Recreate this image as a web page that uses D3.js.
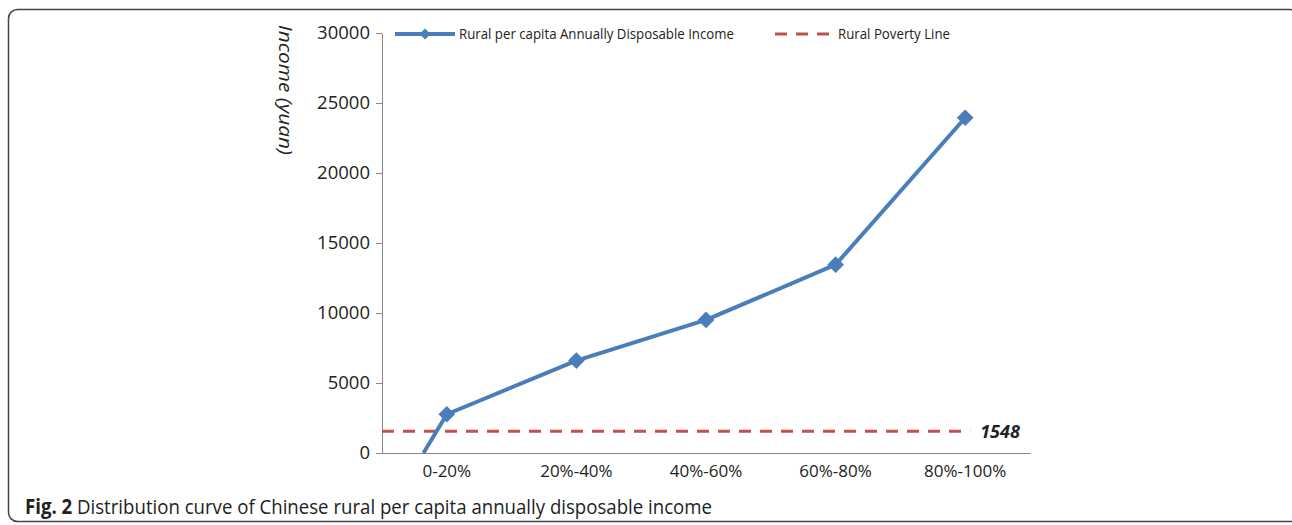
<!DOCTYPE html>
<html>
<head>
<meta charset="utf-8">
<script src="https://cdn.jsdelivr.net/npm/d3@7"></script>
<style>
  body { margin: 0; background: #fff; }
  text { font-family: "Open Sans", sans-serif; fill: #222; }
</style>
</head>
<body>
<svg id="chart" width="1292" height="525"></svg>
<script>
// data
var categories = ["0-20%", "20%-40%", "40%-60%", "60%-80%", "80%-100%"];
var income = [2768, 6604, 9504, 13449, 23947];
var curveStart = {pos: -0.18, value: 0};   // the line starts on the x axis, left of the first group
var povertyLine = 1548;
var yTicks = [0, 5000, 10000, 15000, 20000, 25000, 30000];

var margin = {top: 33, left: 382, right: 262, bottom: 72};
var width = 1292, height = 525;
var plotW = width - margin.left - margin.right;   // 648
var plotH = height - margin.top - margin.bottom;  // 420

var svg = d3.select("svg#chart");

// rounded frame round the figure
svg.append("rect")
  .attr("x", 8.5).attr("y", 9.5)
  .attr("width", 1290).attr("height", 512)
  .attr("rx", 9)
  .attr("fill", "none")
  .attr("stroke", "#444")
  .attr("stroke-width", 1.5);

var g = svg.append("g").attr("transform", "translate(" + margin.left + "," + margin.top + ")");

var x = d3.scaleBand().domain(categories).range([0, plotW]);
var y = d3.scaleLinear().domain([0, 30000]).range([plotH, 0]);

// position in category units -> pixels
var xPos = function (p) { return x.bandwidth() * (p + 0.5); };

// y axis
var yAxis = g.append("g")
  .call(d3.axisLeft(y).tickValues(yTicks).tickSize(6).tickSizeOuter(0).tickFormat(d3.format("d")));
yAxis.select(".domain").attr("stroke", "#888");
yAxis.selectAll(".tick line").attr("stroke", "#888");
yAxis.selectAll("text")
  .attr("x", -12)
  .style("font-size", "18.5px")
  .style("font-family", "Open Sans, sans-serif")
  .attr("fill", "#222");

// x axis
var xAxis = g.append("g")
  .attr("transform", "translate(0," + plotH + ")")
  .call(d3.axisBottom(x).tickSize(0).tickSizeOuter(0));
xAxis.select(".domain").attr("stroke", "#888");
xAxis.selectAll("text")
  .attr("y", 12)
  .style("font-size", "17px")
  .style("font-family", "Open Sans, sans-serif")
  .attr("fill", "#222");

// y axis title, rotated clockwise
svg.append("text")
  .attr("transform", "translate(279,90) rotate(90)")
  .attr("text-anchor", "middle")
  .attr("textLength", 130).attr("lengthAdjust", "spacingAndGlyphs")
  .style("font-size", "19px")
  .style("font-style", "italic")
  .text("Income (yuan)");

// poverty line
g.append("line")
  .attr("x1", 0)
  .attr("x2", xPos(4) + 5)
  .attr("y1", y(povertyLine))
  .attr("y2", y(povertyLine))
  .attr("stroke", "#c0504d")
  .attr("stroke-width", 3)
  .attr("stroke-dasharray", "12,9");

g.append("text")
  .attr("x", xPos(4) + 15)
  .attr("y", y(povertyLine))
  .attr("dy", "0.35em")
  .style("font-size", "18px")
  .style("font-weight", "bold")
  .style("font-style", "italic")
  .attr("fill", "#111")
  .text(povertyLine);

// income curve
var pts = [[curveStart.pos, curveStart.value]].concat(income.map(function (v, i) { return [i, v]; }));
var line = d3.line()
  .x(function (d) { return xPos(d[0]); })
  .y(function (d) { return y(d[1]); });

g.append("path")
  .datum(pts)
  .attr("d", line)
  .attr("fill", "none")
  .attr("stroke", "#4a7ebb")
  .attr("stroke-width", 4)
  .attr("stroke-linejoin", "round");

var diamond = d3.symbol().type(d3.symbolSquare).size(140);
g.selectAll(".marker")
  .data(income)
  .enter()
  .append("path")
  .attr("class", "marker")
  .attr("d", diamond)
  .attr("transform", function (d, i) { return "translate(" + xPos(i) + "," + y(d) + ") rotate(45)"; })
  .attr("fill", "#4a7ebb");

// legend
var leg = svg.append("g").attr("transform", "translate(0,34)");
leg.append("line")
  .attr("x1", 395).attr("x2", 455)
  .attr("stroke", "#4a7ebb").attr("stroke-width", 4);
leg.append("path")
  .attr("d", d3.symbol().type(d3.symbolSquare).size(60))
  .attr("transform", "translate(425,0) rotate(45)")
  .attr("fill", "#4a7ebb");
leg.append("text")
  .attr("x", 459).attr("dy", "0.35em")
  .attr("textLength", 275).attr("lengthAdjust", "spacingAndGlyphs")
  .style("font-size", "14px")
  .text("Rural per capita Annually Disposable Income");
leg.append("line")
  .attr("x1", 775).attr("x2", 832)
  .attr("stroke", "#c0504d").attr("stroke-width", 3)
  .attr("stroke-dasharray", "12,9");
leg.append("text")
  .attr("x", 838).attr("dy", "0.35em")
  .attr("textLength", 112).attr("lengthAdjust", "spacingAndGlyphs")
  .style("font-size", "14px")
  .text("Rural Poverty Line");

// caption
var cap = svg.append("text")
  .attr("x", 25).attr("y", 514)
  .attr("textLength", 687).attr("lengthAdjust", "spacingAndGlyphs")
  .style("font-size", "20.5px")
  .attr("fill", "#111");
cap.append("tspan").style("font-weight", "bold").text("Fig. 2");
cap.append("tspan").text(" Distribution curve of Chinese rural per capita annually disposable income");
</script>
</body>
</html>
